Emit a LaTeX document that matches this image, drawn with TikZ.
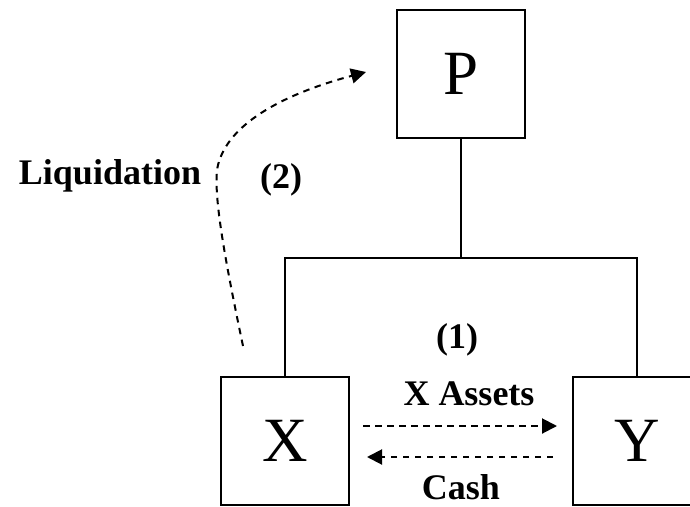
\documentclass[tikz,border=0pt]{standalone}
\usepackage{fontspec}
\setmainfont{Liberation Serif}
\usetikzlibrary{arrows.meta}
\begin{document}
\begin{tikzpicture}[x=1pt,y=-1pt,
  box/.style={draw, line width=2pt, minimum size=128pt, inner sep=0pt, font=\fontsize{63}{70}\selectfont},
  lbl/.style={font=\fontsize{36}{40}\selectfont\bfseries, inner sep=0pt, anchor=base},
  link/.style={line width=2pt},
  flow/.style={line width=2pt, dash pattern=on 6.5pt off 5.5pt, -{Triangle[length=15pt,width=15pt]}}]
\useasboundingbox (0,0) rectangle (690,506);
\clip (0,0) rectangle (690,506);
\node[box] (P) at (461,73.5) {P};
\node[box] (X) at (285,441) {X};
\node[box] (Y) at (637,441) {Y};
\coordinate (bar) at (461,258);
\draw[link] (P) -- (bar);
\draw[link] (X.north) |- (bar) -| (Y.north);
\draw[flow, shorten <=13pt, shorten >=15pt] ([yshift=15pt]X.east) -- ([yshift=15pt]Y.west);
\draw[flow, shorten <=19pt, shorten >=17pt] ([yshift=-16pt]Y.west) -- ([yshift=-16pt]X.east);
\coordinate (ls) at (243,346);
\coordinate (le) at (366,72);
\draw[flow] (ls) .. controls (225,260) and (212,190) .. (218,165) .. controls (228,125) and (280,95) .. (le);
\node[lbl] (liq) at (110,184) {Liquidation};
\node[lbl] (two) at (281,188) {(2)};
\node[lbl] (one) at (457,348) {(1)};
\node[lbl] (xa) at (469,405) {X Assets};
\node[lbl] (cash) at (461,499) {Cash};
\end{tikzpicture}
\end{document}
